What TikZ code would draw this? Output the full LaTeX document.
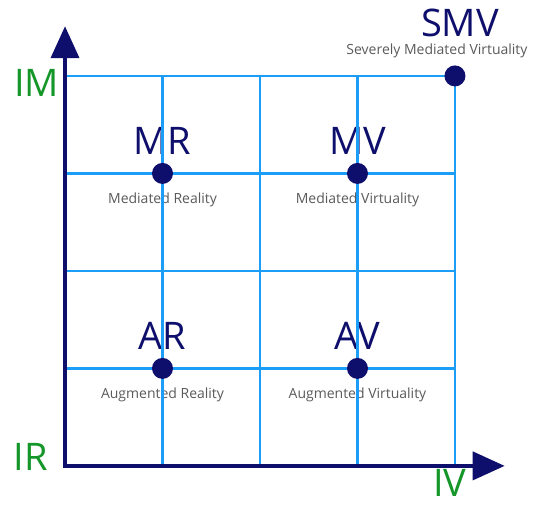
\documentclass[tikz,border=0pt]{standalone}
\usepackage{fontspec}
\setmainfont{Open Sans}
\usetikzlibrary{arrows.meta,positioning}
\definecolor{navy}{RGB}{14,14,108}
\definecolor{gridblue}{RGB}{28,158,248}
\definecolor{axgreen}{RGB}{20,150,40}
\definecolor{txtgray}{RGB}{90,90,90}

\begin{document}
\begin{tikzpicture}[
      x=97.5pt,y=97.5pt,
      gridline/.style={
         draw=gridblue,
         line width=2.2pt},
      axis/.style={
         draw=navy,
         line width=4pt,
         -{Triangle[length=32pt,width=28pt]}},
      dot/.style={
         circle,
         fill=navy,
         inner sep=0pt,
         minimum size=21pt},
      bigtxt/.style={
         text=navy,
         inner sep=0pt,
         font=\fontsize{38}{38}\selectfont},
      smalltxt/.style={
         text=txtgray,
         inner sep=0pt,
         font=\fontsize{14}{14}\selectfont},
      axtxt/.style={
         text=axgreen,
         inner sep=0pt,
         font=\fontsize{38}{38}\selectfont}
      ]
      \useasboundingbox (-0.667,-0.4) rectangle (4.821,4.779);

      % points of the plane
      \foreach \n/\x/\y in {mr/1/3, mv/3/3, ar/1/1, av/3/1, smv/4/4}
         \coordinate (\n) at (\x,\y);

      % labels go under the grid
      \foreach \n/\abbr/\txt in {% point/short/long
        mr/MR/Mediated Reality,
        mv/MV/Mediated Virtuality,
        ar/AR/Augmented Reality,
        av/AV/Augmented Virtuality}
      {
         \node[bigtxt,above=19pt of \n] (\n-abbr) {\abbr};
         \node[smalltxt,below=19.5pt of \n] (\n-txt) {\txt};
      }
      \node[smalltxt,above=18pt of smv,xshift=-18pt] (smv-txt) {Severely Mediated Virtuality};
      \node[bigtxt,above=6pt of smv-txt,xshift=23pt] (smv-abbr) {SMV};

      % grid
      \foreach \k in {1,...,4} {
         \draw[gridline] (\k,0) -- (\k,4);
         \draw[gridline] (0,\k) -- (4,\k);
      }

      % axes
      \coordinate (o) at (0,0);
      \coordinate (ytip) at (0,4.51);
      \coordinate (xtip) at (4.51,0);
      \draw[axis] ([yshift=-2pt]o) -- (ytip);
      \draw[axis] ([xshift=-2pt]o) -- (xtip);

      \node[axtxt] (im) at (-0.29,3.93) {IM};
      \node[axtxt] (ir) at (-0.349,0.087) {IR};
      \node[axtxt] (iv) at (3.949,-0.17) {IV};

      % dots
      \foreach \n in {mr,mv,ar,av,smv}
         \node[dot] (\n-dot) at (\n) {};
    \end{tikzpicture}
\end{document}
